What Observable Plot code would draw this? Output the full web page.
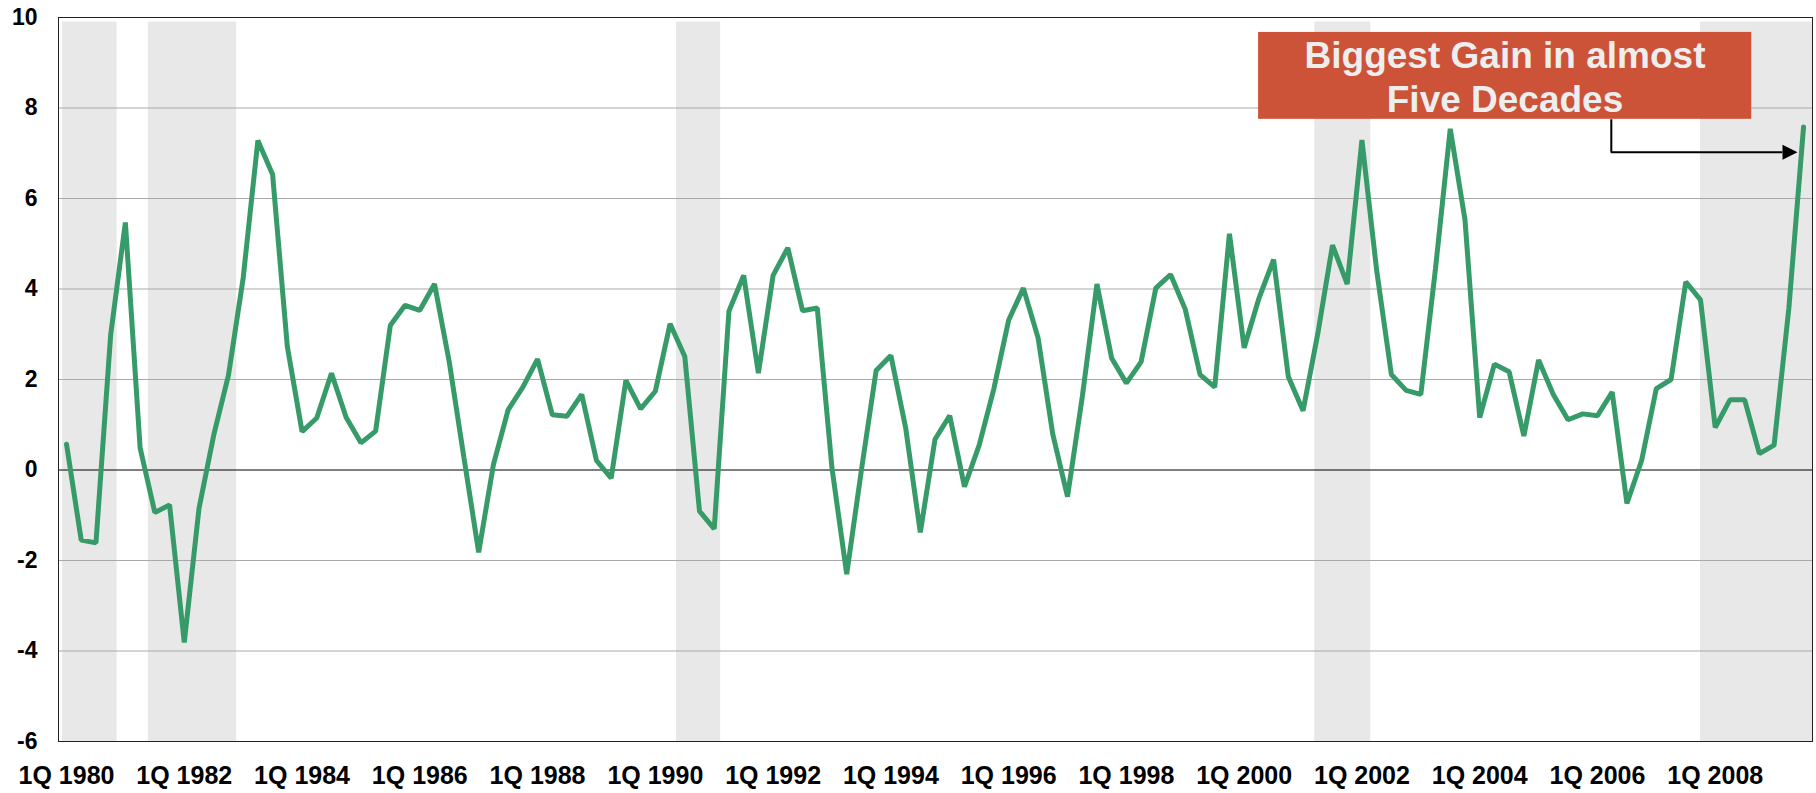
<!DOCTYPE html>
<html><head><meta charset="utf-8">
<script src="https://cdn.jsdelivr.net/npm/d3@7"></script>
<script src="https://cdn.jsdelivr.net/npm/@observablehq/plot@0.6"></script>
<style>
html,body{margin:0;padding:0;background:#fff;}
#chart{width:1816px;height:793px;}
</style></head><body><div id="chart"></div>
<script>
// Quarterly series, 1Q 1980 .. 3Q 2009 (one value per quarter)
const startYear = 1980;
const values = [
  0.57, -1.55, -1.61, 2.99, 5.47, 0.49, -0.94, -0.77, -3.81, -0.85,
  0.77, 2.09, 4.24, 7.28, 6.53, 2.73, 0.85, 1.15, 2.14, 1.16,
  0.60, 0.86, 3.20, 3.64, 3.53, 4.11, 2.39, 0.27, -1.82, 0.12,
  1.33, 1.83, 2.45, 1.22, 1.19, 1.67, 0.21, -0.18, 1.98, 1.35,
  1.74, 3.23, 2.51, -0.91, -1.30, 3.51, 4.30, 2.14, 4.30, 4.91,
  3.52, 3.58, 0.04, -2.30, 0.00, 2.20, 2.53, 0.94, -1.38, 0.68,
  1.20, -0.37, 0.55, 1.80, 3.31, 4.02, 2.92, 0.79, -0.59, 1.61,
  4.11, 2.47, 1.92, 2.39, 4.02, 4.32, 3.55, 2.11, 1.83, 5.22,
  2.70, 3.79, 4.65, 2.06, 1.31, 3.01, 4.97, 4.11, 7.29, 4.41,
  2.11, 1.76, 1.67, 4.46, 7.54, 5.53, 1.16, 2.34, 2.17, 0.75,
  2.43, 1.67, 1.11, 1.24, 1.20, 1.72, -0.74, 0.21, 1.80, 2.00,
  4.16, 3.76, 0.94, 1.55, 1.55, 0.36, 0.55, 3.57, 7.58
];
const tickYears = [1980,1982,1984,1986,1988,1990,1992,1994,1996,1998,2000,2002,2004,2006,2008];
const tickLabels = ["1Q 1980","1Q 1982","1Q 1984","1Q 1986","1Q 1988","1Q 1990","1Q 1992","1Q 1994","1Q 1996","1Q 1998","1Q 2000","1Q 2002","1Q 2004","1Q 2006","1Q 2008"];
const yTicks = [-6,-4,-2,0,2,4,6,8,10];
const yTickLabels = ["-6","-4","-2","0","2","4","6","8","10"];
const gridValues = [-4,-2,2,4,6,8];
// Recession shading (decimal years)
const recessionStart = [1979.93, 1981.39, 1990.36, 2001.20, 2007.75];
const recessionEnd   = [1980.86, 1982.89, 1991.11, 2002.15, 2009.652];
const annotationLines = ["Biggest Gain in almost", "Five Decades"];

const data = values.map((v, i) => ({t: startYear + i / 4, v}));
const recessions = recessionStart.map((s, k) => ({start: s, end: recessionEnd[k]}));

const arrowHead = {
  draw(ctx) { ctx.moveTo(7.5, 0); ctx.lineTo(-7.5, -7.5); ctx.lineTo(-7.5, 7.5); ctx.closePath(); }
};

const font = "'Liberation Sans', Arial, Helvetica, sans-serif";

const chart = Plot.plot({
  width: 1816,
  height: 793,
  marginLeft: 58,
  marginRight: 4,
  marginTop: 17,
  marginBottom: 52,
  style: {fontFamily: font, background: "#fff", overflow: "visible"},
  x: {type: "linear", domain: [1979.864, 2009.652]},
  y: {domain: [-6, 10]},
  marks: [
    Plot.rect(recessions, {x1: "start", x2: "end", y1: -6, y2: 9.9, fill: "#e8e8e8"}),
    Plot.ruleY(gridValues, {stroke: "#a9a9a9", strokeWidth: 1}),
    Plot.ruleY([0], {stroke: "#000", strokeWidth: 1}),
    Plot.line(data, {x: "t", y: "v", stroke: "#369b68", strokeWidth: 5, strokeLinejoin: "bevel"}),
    Plot.frame({stroke: "#222", strokeWidth: 1}),
    // annotation
    Plot.rect([{x1: 2000.245, x2: 2008.62, y1: 7.75, y2: 9.67}], {x1: "x1", x2: "x2", y1: "y1", y2: "y2", fill: "#cc5238"}),
    Plot.text(annotationLines.map((s, k) => ({s, x: 2004.43, y: [9.15, 8.18][k]})), {
      x: "x", y: "y", text: "s", fill: "#eeeeee", fontSize: 37, fontWeight: "bold", textAnchor: "middle"
    }),
    Plot.line([{x: 2006.235, y: 7.75}, {x: 2006.235, y: 7.02}, {x: 2009.14, y: 7.02}], {
      x: "x", y: "y", stroke: "#000", strokeWidth: 2, strokeLinejoin: "miter", strokeLinecap: "butt"
    }),
    Plot.dot([{x: 2009.27, y: 7.02}], {x: "x", y: "y", symbol: arrowHead, fill: "#000", stroke: "none", r: 5}),
    // axes
    Plot.axisX({
      ticks: tickYears, tickFormat: d => tickLabels[tickYears.indexOf(d)],
      tickSize: 0, tickPadding: 25, fontSize: 25, fontWeight: "bold", label: null, fill: "#000"
    }),
    Plot.axisY({
      ticks: yTicks, tickFormat: d => yTickLabels[yTicks.indexOf(d)],
      tickSize: 0, tickPadding: 21, fontSize: 23, fontWeight: "bold", label: null, fill: "#000"
    })
  ]
});
document.getElementById("chart").appendChild(chart);
</script>
</body></html>
